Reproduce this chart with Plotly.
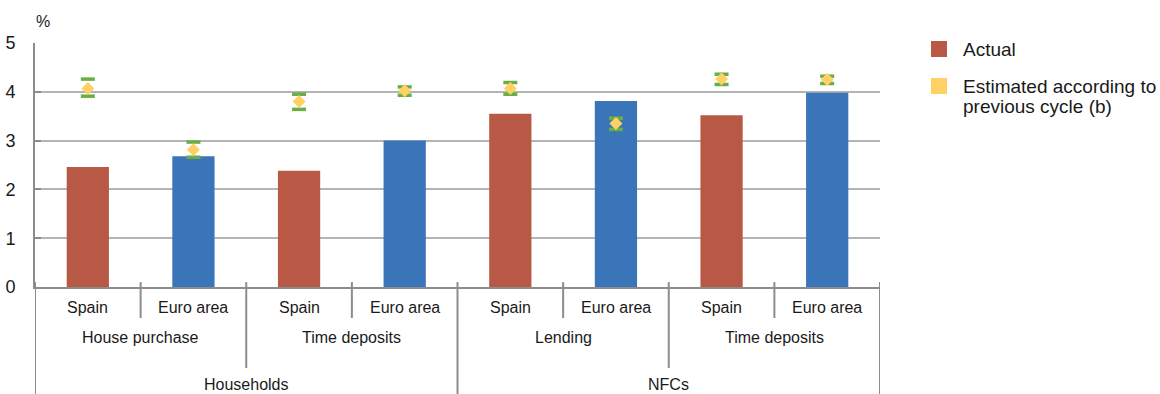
import plotly.graph_objects as go

# Interest rates (%), by segment and area
countries = ["Spain", "Euro area", "Spain", "Euro area", "Spain", "Euro area", "Spain", "Euro area"]
products = ["House purchase", "Time deposits", "Lending", "Time deposits"]
sectors = ["Households", "NFCs"]

actual = [2.46, 2.68, 2.38, 3.00, 3.55, 3.81, 3.52, 3.98]
estimated = [4.07, 2.81, 3.80, 4.02, 4.07, 3.35, 4.26, 4.25]
est_upper = [4.26, 2.97, 3.95, 4.10, 4.19, 3.46, 4.36, 4.32]
est_lower = [3.91, 2.66, 3.64, 3.93, 3.95, 3.23, 4.15, 4.17]

y_ticks = [0, 1, 2, 3, 4, 5]

RED = "#b85946"
BLUE = "#3a74b9"
YELLOW = "#ffd062"
GREEN = "#6aae47"
TXT = "#1a1a1a"
SEP = "#8c8c8c"
FONT = "Liberation Sans, Arial, sans-serif"

x = list(range(len(actual)))
bar_colors = [RED if c == "Spain" else BLUE for c in countries]

fig = go.Figure()
fig.add_trace(go.Bar(
    x=x, y=actual, width=0.4, marker=dict(color=bar_colors, line=dict(width=0)),
    name="Actual", showlegend=False,
))
for bound in (est_upper, est_lower):
    fig.add_trace(go.Scatter(
        x=x, y=bound, mode="markers", showlegend=False,
        marker=dict(symbol="line-ew", size=10, line=dict(color=GREEN, width=3.5)),
    ))
fig.add_trace(go.Scatter(
    x=x, y=estimated, mode="markers", name="Estimated according to previous cycle (b)",
    showlegend=False, marker=dict(symbol="diamond", size=10, color=YELLOW, line=dict(width=0)),
))

shapes = []
annotations = []


def label(xv, yv, text, size=16):
    annotations.append(dict(x=xv, y=yv, xref="x", yref="paper", text=text, showarrow=False,
                            xanchor="center", yanchor="middle",
                            font=dict(size=size, color=TXT, family=FONT)))


def vsep(xv, y1):
    shapes.append(dict(type="line", xref="x", yref="paper", x0=xv, x1=xv, y0=0.02, y1=y1,
                       line=dict(color=SEP, width=2)))


# category axis: three label tiers with separators
for i, c in enumerate(countries):
    label(i, -0.082, c)
for p, name in enumerate(products):
    vsep(2 * p + 0.5, -0.127)
    label(2 * p + 0.5, -0.209, name)
for s, name in enumerate(sectors):
    vsep(4 * s + 1.5, -0.332)
    label(4 * s + 1.5, -0.401, name)
for xs in (-0.5, 3.5, 7.5):
    vsep(xs, -0.45)

# legend
legend_items = [(RED, ["Actual"], 0), (YELLOW, ["Estimated according to", "previous cycle (b)"], 37)]
for color, lines, dy in legend_items:
    top = 41 + dy
    shapes.append(dict(type="rect", xref="paper", yref="paper",
                       x0=(931 - 35) / 845, x1=(947 - 35) / 845,
                       y0=(287 - top - 16) / 244, y1=(287 - top) / 244,
                       fillcolor=color, line=dict(width=0)))
    for k, line in enumerate(lines):
        yc = top + 8 + k * 20
        annotations.append(dict(x=(961 - 35) / 845, y=(287 - yc) / 244, xref="paper", yref="paper",
                                text=line, showarrow=False, xanchor="left", yanchor="middle",
                                font=dict(size=19, color=TXT, family=FONT)))

annotations.append(dict(x=(34 - 35) / 845, y=(287 - 22) / 244, xref="paper", yref="paper",
                        text="%", showarrow=False, xanchor="left", yanchor="middle",
                        font=dict(size=16, color=TXT, family=FONT)))

fig.update_layout(
    width=1160, height=394,
    margin=dict(l=35, r=280, t=43, b=107, autoexpand=False),
    paper_bgcolor="white", plot_bgcolor="white",
    font=dict(family=FONT, color=TXT),
    shapes=shapes, annotations=annotations,
)
fig.update_xaxes(
    range=[-0.5, 7.5], showticklabels=False, showgrid=False, zeroline=False,
    showline=True, linecolor=SEP, linewidth=2, ticks="", automargin=False,
)
fig.update_yaxes(
    range=[0, 5], tickvals=y_ticks, showgrid=True, gridcolor="#b4b4b4", gridwidth=1.5,
    zeroline=False, showline=True, linecolor=SEP, linewidth=2,
    ticks="inside", ticklen=6, tickcolor=SEP, tickwidth=2, automargin=False,
    tickfont=dict(size=18, color=TXT, family=FONT), ticklabelstandoff=14,
)

fig.write_html("out.html")
